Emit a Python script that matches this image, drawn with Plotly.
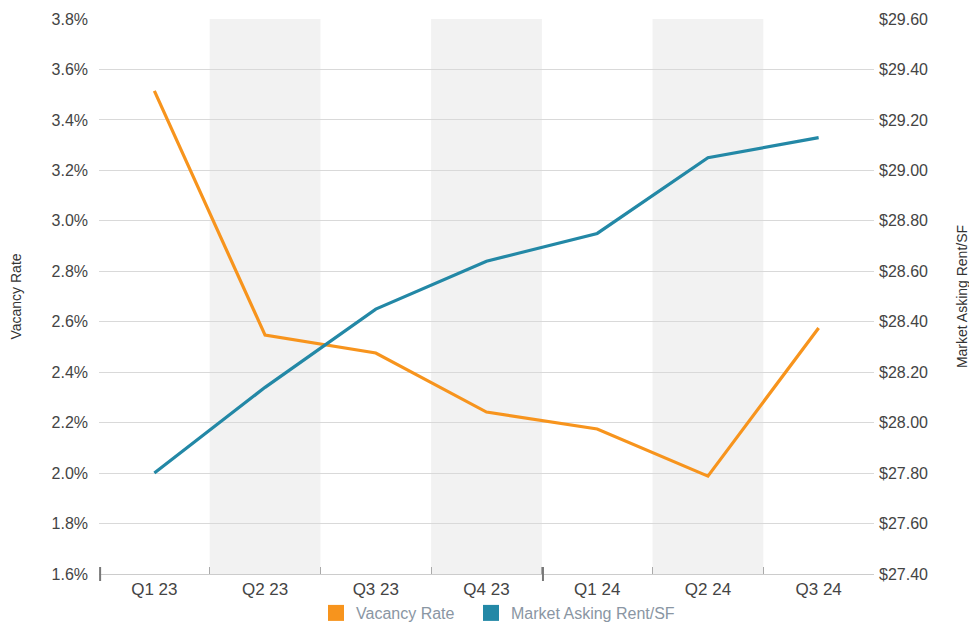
import plotly.graph_objects as go

quarters = ["Q1 23", "Q2 23", "Q3 23", "Q4 23", "Q1 24", "Q2 24", "Q3 24"]
vacancy_rate = [3.515, 2.547, 2.476, 2.242, 2.175, 1.988, 2.575]
asking_rent = [27.80, 28.14, 28.45, 28.64, 28.75, 29.05, 29.13]
year_starts = ["Q1 23", "Q1 24"]

ORANGE = "#F7941D"
TEAL = "#2388A6"
FONT = "Liberation Sans, Arial, sans-serif"

W, H = 969, 614   # page body has an 8px margin in the 977x622 window
PLOT_H = 555

fig = go.Figure()

fig.add_trace(go.Scatter(x=quarters, y=vacancy_rate, mode="lines", name="Vacancy Rate",
                         line=dict(color=ORANGE, width=3.2), showlegend=False, yaxis="y"))
fig.add_trace(go.Scatter(x=quarters, y=asking_rent, mode="lines", name="Market Asking Rent/SF",
                         line=dict(color=TEAL, width=3.2), showlegend=False, yaxis="y2"))
# legend entries (checkbox-style squares), one legend box each
for name, col, lg in [("Vacancy Rate", ORANGE, "legend"), ("Market Asking Rent/SF", TEAL, "legend2")]:
    fig.add_trace(go.Scatter(x=[None], y=[None], mode="markers", name=name, legend=lg,
                             marker=dict(symbol="square", size=17, color=col), yaxis="y"))

shapes = []
# alternating background bands
for i, q in enumerate(quarters):
    if i % 2 == 1:
        shapes.append(dict(type="rect", xref="x", yref="paper", x0=i - 0.5, x1=i + 0.5,
                           y0=0, y1=1, fillcolor="#F2F2F2", line=dict(width=0), layer="below"))
# longer ticks at year boundaries
for q in year_starts:
    i = quarters.index(q)
    shapes.append(dict(type="line", xref="x", yref="paper", x0=i - 0.49, x1=i - 0.49,
                       y0=-7 / PLOT_H, y1=7 / PLOT_H, line=dict(color="#777777", width=2)))

legend_style = dict(orientation="h", xanchor="left", xref="container",
                    y=9 / H, yanchor="middle", yref="container",
                    font=dict(size=16, color="#8a96a3"), bgcolor="rgba(0,0,0,0)")

fig.update_layout(
    width=W, height=H,
    margin=dict(l=91, r=103, t=11, b=48),
    plot_bgcolor="white", paper_bgcolor="white",
    font=dict(family=FONT, size=16, color="#555555"),
    shapes=shapes,
    xaxis=dict(type="category", tickson="boundaries", ticks="inside", ticklen=7,
               tickcolor="#aaaaaa", showline=True, linecolor="#cccccc", linewidth=1,
               showgrid=False, tickfont=dict(size=17, color="#444444"),
               range=[-0.5, len(quarters) - 0.5], automargin=False),
    yaxis=dict(range=[1.6, 3.8], dtick=0.2, tickformat=".1f", ticksuffix="%",
               showgrid=True, gridcolor="#d9d9d9", zeroline=False, automargin=False,
               ticklabelstandoff=10,
               tickfont=dict(size=16, color="#444444"),
               title=dict(text="Vacancy Rate", font=dict(size=14, color="#333333"), standoff=28)),
    yaxis2=dict(range=[27.4, 29.6], dtick=0.2, tickformat=".2f", tickprefix="$",
                overlaying="y", side="right", showgrid=False, zeroline=False, automargin=False,
                ticklabelstandoff=4,
                tickfont=dict(size=16, color="#444444"),
                title=dict(text="Market Asking Rent/SF", font=dict(size=14, color="#333333"), standoff=30)),
    legend=dict(x=308 / W, **legend_style),
    legend2=dict(x=463 / W, **legend_style),
)

fig.write_html("out.html")
